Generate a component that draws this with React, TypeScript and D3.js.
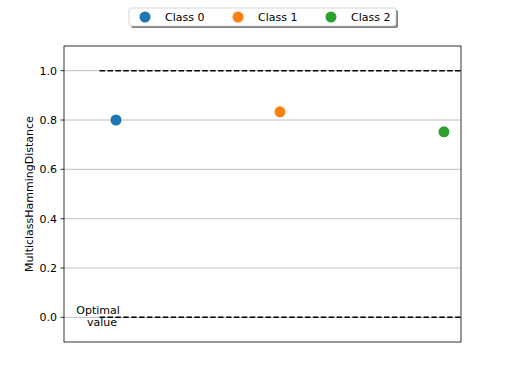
import React from "react";
import * as d3 from "d3";

const classes = ["Class 0", "Class 1", "Class 2"];
const values = [0.8, 0.833, 0.752];
const colors = ["#1f77b4", "#ff7f0e", "#2ca02c"];
const yTicks = [0.0, 0.2, 0.4, 0.6, 0.8, 1.0];
const optimal = [0.0, 1.0];

export default function App() {
  const W = 512, H = 384;
  const left = 64, right = 461, top = 46, bottom = 342;
  const x = d3.scaleLinear().domain([-0.317, 2.104]).range([left, right]);
  const y = d3.scaleLinear().domain([-0.1, 1.1]).range([bottom, top]);
  const font = "DejaVu Sans, sans-serif";
  const legendX = [145, 238, 331];
  return (
    <svg width={W} height={H} style={{ position: "absolute", left: 0, top: 0 }} fontFamily={font}>
      <rect width={W} height={H} fill="#fff" />
      {yTicks.map((t) => (
        <g key={t}>
          <line x1={left} x2={right} y1={y(t)} y2={y(t)} stroke="#b0b0b0" strokeWidth={0.8} />
          <line x1={left - 3.5} x2={left} y1={y(t)} y2={y(t)} stroke="#000" strokeWidth={0.8} />
          <text x={left - 7} y={y(t)} dy="0.35em" textAnchor="end" fontSize={11}>{t.toFixed(1)}</text>
        </g>
      ))}
      {optimal.map((v) => (
        <line key={v} x1={x(-0.1)} x2={right} y1={y(v)} y2={y(v)} stroke="#000" strokeWidth={1.5} strokeDasharray="5.5,2.4" />
      ))}
      <text x={98} y={y(0) - 3} textAnchor="middle" fontSize={11}>Optimal</text>
      <text x={102} y={y(0) + 9} textAnchor="middle" fontSize={11}>value</text>
      {values.map((v, i) => (
        <circle key={i} cx={x(i)} cy={y(v)} r={5.5} fill={colors[i]} />
      ))}
      <rect x={left} y={top} width={right - left} height={bottom - top} fill="none" stroke="#000" strokeWidth={0.8} />
      <text transform={`translate(33,${(top + bottom) / 2}) rotate(-90)`} textAnchor="middle" fontSize={11}>MulticlassHammingDistance</text>
      <g>
        <rect x={131} y={10} width={267} height={18} fill="#000" opacity={0.5} rx={2} />
        <rect x={129} y={8} width={267} height={18} fill="#fff" stroke="#ccc" strokeWidth={0.8} rx={2} />
        {classes.map((c, i) => (
          <g key={c}>
            <circle cx={legendX[i]} cy={17} r={5.5} fill={colors[i]} />
            <text x={legendX[i] + 20} y={17} dy="0.35em" fontSize={11}>{c}</text>
          </g>
        ))}
      </g>
    </svg>
  );
}
